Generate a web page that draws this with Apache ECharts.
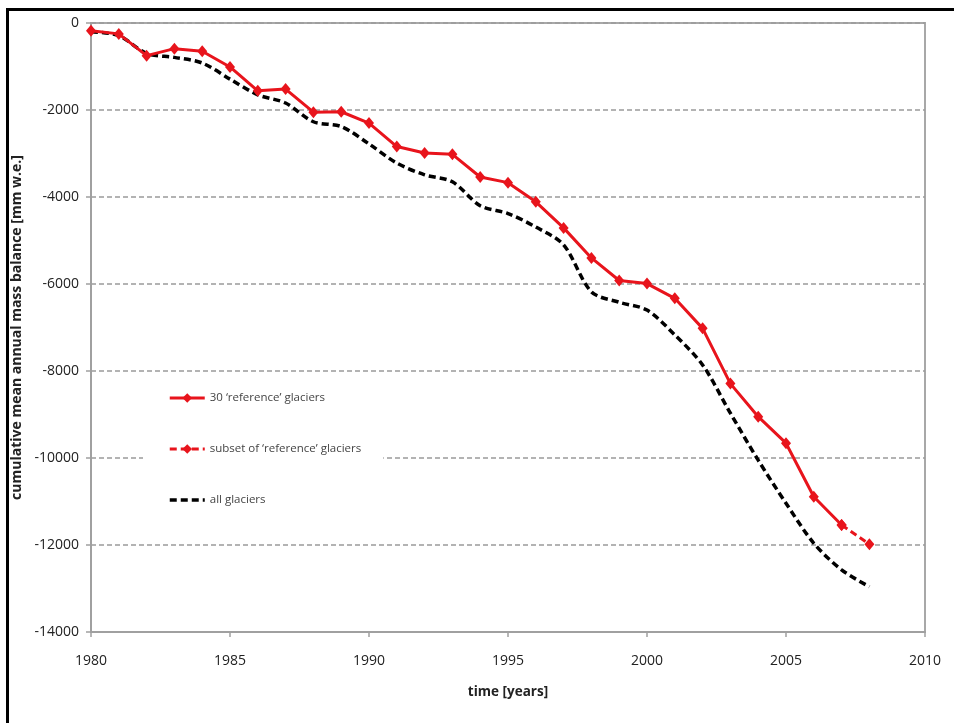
<!DOCTYPE html>
<html>
<head>
<meta charset="utf-8">
<script src="https://cdn.jsdelivr.net/npm/echarts@6/dist/echarts.min.js"></script>
<style>
  html, body { margin: 0; padding: 0; background: #fff; }
  #chart { width: 954px; height: 723px; }
</style>
</head>
<body>
<div id="chart"></div>
<script>
// Cumulative mean annual mass balance, mm w.e.
const years = [1980, 1981, 1982, 1983, 1984, 1985, 1986, 1987, 1988, 1989,
               1990, 1991, 1992, 1993, 1994, 1995, 1996, 1997, 1998, 1999,
               2000, 2001, 2002, 2003, 2004, 2005, 2006, 2007, 2008];

// 30 reference glaciers (last year from a subset of them)
const referenceMB = [-180, -250, -750, -590, -650, -1010, -1560, -1520, -2050, -2040,
                     -2300, -2840, -2990, -3020, -3540, -3670, -4110, -4710, -5400, -5920,
                     -5990, -6330, -7020, -8290, -9050, -9660, -10890, -11540, -11980];

// all glaciers
const allGlaciersMB = [-200, -290, -700, -790, -920, -1290, -1650, -1840, -2270, -2380,
                       -2780, -3220, -3490, -3650, -4200, -4380, -4690, -5100, -6180, -6420,
                       -6600, -7170, -7860, -8970, -10050, -11040, -11960, -12570, -12960];

// index of the last year with the full reference set
const fullSetEnd = years.indexOf(2007);

const seriesNames = ['30 \u2018reference\u2019 glaciers',
                     'subset of \u2018reference\u2019 glaciers',
                     'all glaciers'];

const yTicks = { min: -14000, max: 0, step: 2000 };
const xTicks = { min: 1980, max: 2010, step: 5 };

const pairs = (xs, ys, from, to) => xs.slice(from, to).map((x, i) => [x, ys[from + i]]);

const RED = '#e8141c';
const FONT = 'Open Sans';

const chart = echarts.init(document.getElementById('chart'), null, { renderer: 'canvas' });

chart.setOption({
  animation: false,
  backgroundColor: '#ffffff',
  textStyle: { fontFamily: FONT },
  graphic: [{
    type: 'rect',
    shape: { x: 7.5, y: 9.5, width: 1000, height: 800 },
    style: { fill: 'none', stroke: '#000', lineWidth: 3 },
    z: 100
  }],
  grid: {
    left: 91, right: 29, top: 23, bottom: 91,
    show: true, borderColor: '#a8a8a8', borderWidth: 2, backgroundColor: 'transparent'
  },
  legend: {
    orient: 'vertical',
    left: 143, top: 379,
    padding: [13, 22, 27, 25],
    backgroundColor: '#ffffff',
    itemWidth: 35, itemHeight: 12, itemGap: 39,
    data: [
      { name: seriesNames[0], lineStyle: { width: 3 } },
      { name: seriesNames[1], lineStyle: { width: 3 } },
      { name: seriesNames[2], lineStyle: { width: 3.5 }, itemStyle: { opacity: 0 } }
    ],
    textStyle: { fontFamily: FONT, fontSize: 11.5, color: '#444' },
    z: 10
  },
  xAxis: {
    type: 'value',
    min: xTicks.min, max: xTicks.max, interval: xTicks.step,
    name: 'time [years]',
    nameLocation: 'middle', nameGap: 53,
    nameTextStyle: { fontFamily: FONT, fontSize: 13.5, fontWeight: 'bold', color: '#222', verticalAlign: 'top' },
    axisLine: { onZero: false, lineStyle: { color: '#a0a0a0', width: 2 } },
    axisTick: { show: true, length: 5, lineStyle: { color: '#a0a0a0', width: 1.5 } },
    axisLabel: { margin: 22, fontFamily: FONT, fontSize: 14, color: '#222',
                 formatter: v => String(v) },
    splitLine: { show: false }
  },
  yAxis: {
    type: 'value',
    min: yTicks.min, max: yTicks.max, interval: yTicks.step,
    name: 'cumulative mean annual mass balance [mm w.e.]',
    nameLocation: 'middle', nameGap: 61,
    nameTextStyle: { fontFamily: FONT, fontSize: 14, fontWeight: 'bold', color: '#222' },
    axisLine: { show: true, onZero: false, lineStyle: { color: '#a0a0a0', width: 2 } },
    axisTick: { show: true, length: 5, lineStyle: { color: '#a0a0a0', width: 1.5 } },
    axisLabel: { margin: 12, fontFamily: FONT, fontSize: 14, color: '#222',
                 formatter: v => String(v) },
    splitLine: { show: true, lineStyle: { color: '#9a9a9a', width: 1.5, type: [5, 3] } }
  },
  series: [
    {
      name: seriesNames[0],
      type: 'line',
      data: pairs(years, referenceMB, 0, fullSetEnd + 1),
      symbol: 'diamond', symbolSize: [10, 12],
      itemStyle: { color: RED },
      lineStyle: { color: RED, width: 3 },
      z: 5
    },
    {
      name: seriesNames[1],
      type: 'line',
      data: pairs(years, referenceMB, fullSetEnd, years.length),
      symbol: 'diamond', symbolSize: [10, 12],
      itemStyle: { color: RED },
      lineStyle: { color: RED, width: 3, type: [7, 4] },
      z: 5
    },
    {
      name: seriesNames[2],
      type: 'line',
      data: pairs(years, allGlaciersMB, 0, years.length),
      symbol: 'none',
      smooth: 0.3,
      itemStyle: { color: '#000' },
      lineStyle: { color: '#000', width: 3.5, type: [7, 4] },
      z: 4
    }
  ]
});
</script>
</body>
</html>
